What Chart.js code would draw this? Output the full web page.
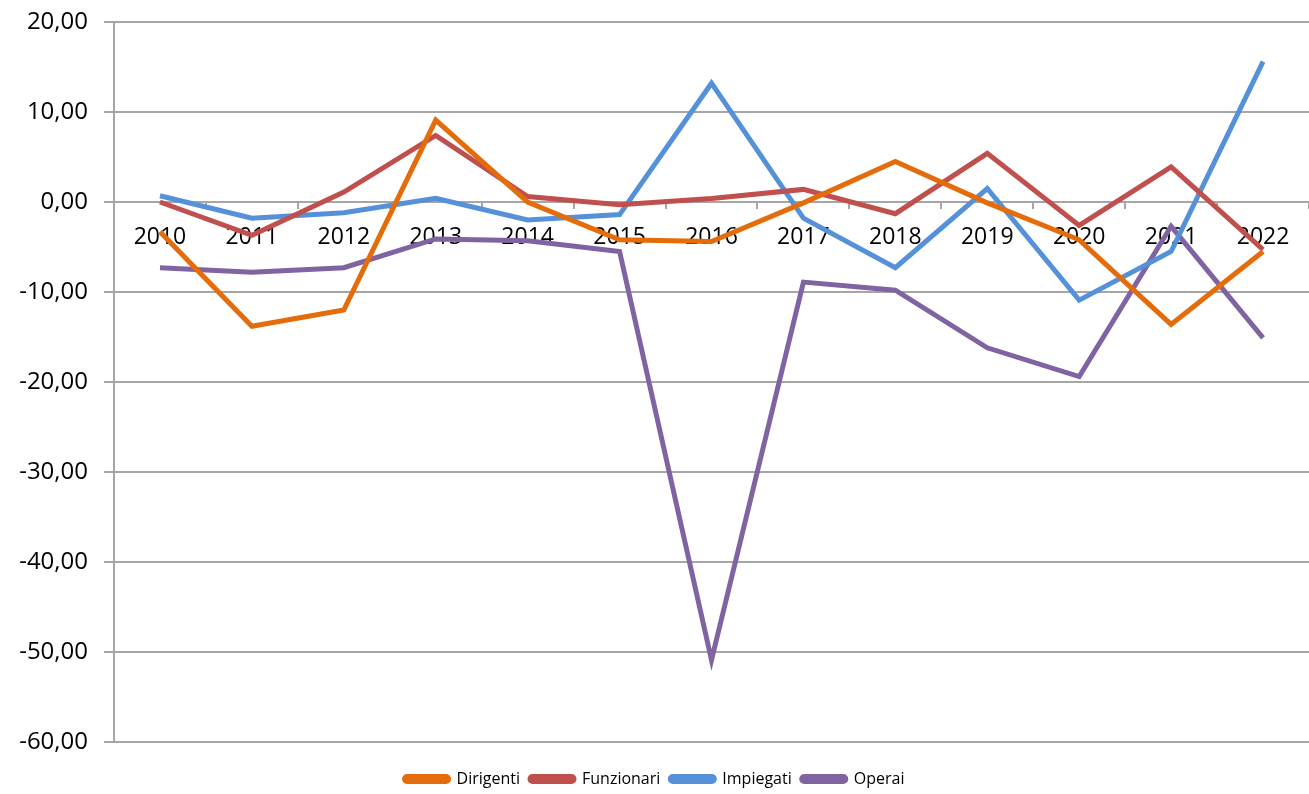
<!DOCTYPE html>
<html>
<head>
<meta charset="utf-8">
<script src="https://cdn.jsdelivr.net/npm/chart.js@4.4.1/dist/chart.umd.min.js"></script>
<style>
  html, body { margin: 0; padding: 0; background: #fff; }
  #wrap { width: 1309px; height: 794px; }
</style>
</head>
<body>
<div id="wrap"><canvas id="chart" width="1309" height="794"></canvas></div>
<script>
const years = ["2010", "2011", "2012", "2013", "2014", "2015", "2016", "2017", "2018", "2019", "2020", "2021", "2022"];
const dirigenti = [-3.3, -13.8, -12.0, 9.1, 0.0, -4.2, -4.4, -0.1, 4.5, -0.1, -4.2, -13.6, -5.5];
const funzionari = [0.0, -3.7, 1.1, 7.4, 0.6, -0.3, 0.4, 1.4, -1.3, 5.4, -2.6, 3.9, -5.3];
const impiegati = [0.7, -1.8, -1.2, 0.4, -2.0, -1.4, 13.2, -1.8, -7.3, 1.5, -10.9, -5.5, 15.6];
const operai = [-7.3, -7.8, -7.3, -4.1, -4.3, -5.5, -50.9, -8.9, -9.8, -16.2, -19.4, -2.7, -15.1];

const gridColor = "#a6a6a6";

function series(label, data, color) {
  return {
    label,
    data,
    borderColor: color,
    backgroundColor: color,
    borderWidth: 5,
    pointRadius: 0,
    tension: 0,
  };
}

new Chart(document.getElementById("chart"), {
  type: "line",
  data: {
    labels: years,
    datasets: [
      series("Dirigenti", dirigenti, "#e46c0a"),
      series("Funzionari", funzionari, "#c0504d"),
      series("Impiegati", impiegati, "#5591d8"),
      series("Operai", operai, "#8064a2"),
    ],
  },
  options: {
    responsive: false,
    animation: false,
    devicePixelRatio: 1,
    // slightly negative bottom so the legend sits as low as in the original
    layout: { padding: { top: 22, right: 0, bottom: -3, left: 0 } },
    plugins: {
      legend: {
        position: "bottom",
        // empty title only reserves room between plot and legend
        title: { display: true, text: "", font: { size: 11, lineHeight: 1 }, padding: 4 },
        labels: {
          color: "#000",
          font: { family: "Open Sans", size: 16 },
          boxWidth: 44,
          boxHeight: 5,
          padding: 10,
          useBorderRadius: true,
          borderRadius: 2.5,
        },
      },
      tooltip: { enabled: false },
    },
    scales: {
      x: {
        position: { y: 0 },
        offset: true,
        grid: {
          offset: true,
          drawOnChartArea: false,
          drawTicks: true,
          tickLength: 6,
          color: gridColor,
          lineWidth: 2,
        },
        border: { display: true, color: gridColor, width: 2 },
        ticks: {
          color: "#000",
          font: { family: "Open Sans", size: 23 },
          padding: 16,
          maxRotation: 0,
          autoSkip: false,
        },
      },
      y: {
        min: -60,
        max: 20,
        afterFit: (scale) => {
          scale.width = 114;
          scale.paddingTop = 0;
          scale.paddingBottom = 0;
        },
        grid: {
          color: gridColor,
          lineWidth: 2,
          drawTicks: true,
          tickLength: 10,
        },
        border: { display: true, color: gridColor, width: 2 },
        ticks: {
          stepSize: 10,
          color: "#000",
          font: { family: "Open Sans", size: 24 },
          padding: 16,
          callback: (v) => v.toFixed(2).replace(".", ","),
        },
      },
    },
  },
});
</script>
</body>
</html>
